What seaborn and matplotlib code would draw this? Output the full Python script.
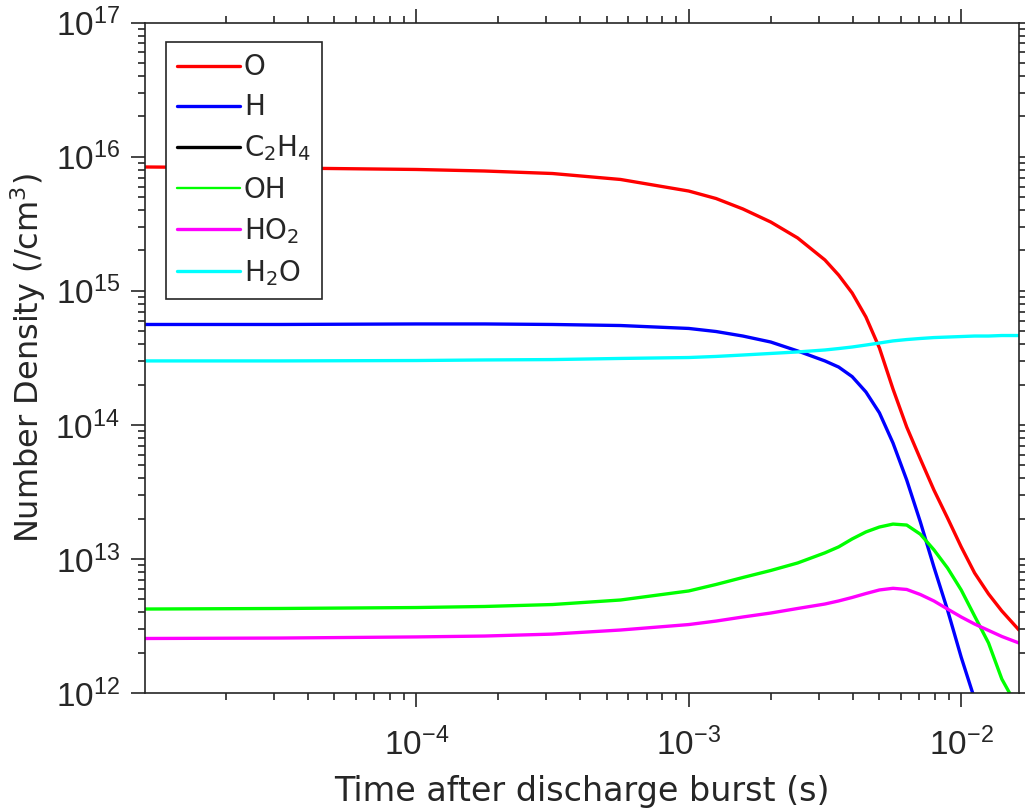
import numpy as np
import matplotlib
matplotlib.use("Agg")
import matplotlib.pyplot as plt
import matplotlib.ticker as mticker
import seaborn as sns

# Time after the discharge burst (s)
time_s = [1.0e-5, 3.16e-5, 1.0e-4, 1.78e-4, 3.16e-4, 5.62e-4, 1.0e-3, 1.26e-3,
          1.58e-3, 2.0e-3, 2.51e-3, 3.16e-3, 3.55e-3, 3.98e-3, 4.47e-3, 5.01e-3,
          5.62e-3, 6.31e-3, 7.08e-3, 7.94e-3, 8.91e-3, 1.0e-2, 1.12e-2, 1.26e-2,
          1.41e-2, 1.63e-2]

# Number densities (/cm^3)
n_O = [8.39e15, 8.25e15, 8.04e15, 7.83e15, 7.50e15, 6.77e15, 5.55e15, 4.88e15,
       4.08e15, 3.26e15, 2.48e15, 1.70e15, 1.31e15, 9.63e14, 6.38e14, 3.75e14,
       1.85e14, 9.64e13, 5.57e13, 3.27e13, 2.02e13, 1.23e13, 7.86e12, 5.48e12,
       4.09e12, 2.95e12]
n_H = [5.61e14, 5.61e14, 5.66e14, 5.66e14, 5.61e14, 5.51e14, 5.24e14, 4.97e14,
       4.60e14, 4.15e14, 3.56e14, 3.00e14, 2.70e14, 2.29e14, 1.76e14, 1.23e14,
       7.32e13, 3.88e13, 1.89e13, 8.71e12, 4.16e12, 1.85e12, 9.01e11, 4.86e11,
       np.nan, np.nan]
n_OH = [4.23e12, 4.27e12, 4.34e12, 4.42e12, 4.57e12, 4.94e12, 5.77e12, 6.45e12,
        7.27e12, 8.20e12, 9.33e12, 1.11e13, 1.23e13, 1.41e13, 1.59e13, 1.73e13,
        1.82e13, 1.79e13, 1.53e13, 1.17e13, 8.56e12, 5.87e12, 3.75e12, 2.36e12,
        1.27e12, 7.47e11]
n_HO2 = [2.55e12, 2.57e12, 2.62e12, 2.66e12, 2.75e12, 2.95e12, 3.24e12, 3.44e12,
         3.69e12, 3.95e12, 4.27e12, 4.61e12, 4.86e12, 5.16e12, 5.52e12, 5.87e12,
         6.04e12, 5.92e12, 5.43e12, 4.86e12, 4.23e12, 3.69e12, 3.27e12, 2.93e12,
         2.64e12, 2.36e12]
n_H2O = [3.00e14, 3.00e14, 3.02e14, 3.05e14, 3.07e14, 3.13e14, 3.18e14, 3.24e14,
         3.32e14, 3.41e14, 3.50e14, 3.62e14, 3.71e14, 3.81e14, 3.94e14, 4.08e14,
         4.23e14, 4.33e14, 4.41e14, 4.48e14, 4.52e14, 4.56e14, 4.60e14, 4.60e14,
         4.64e14, 4.64e14]

species = ["O", "H", r"C$_2$H$_4$", "OH", r"HO$_2$", r"H$_2$O"]

sns.set_theme(style="ticks")
plt.rcParams.update({
    "font.family": ["DejaVu Sans"],
    "mathtext.default": "regular",
    "axes.edgecolor": "#262626",
    "axes.linewidth": 1.2,
    "text.color": "#262626",
    "axes.labelcolor": "#262626",
    "xtick.color": "#262626",
    "ytick.color": "#262626",
})

fig = plt.figure(figsize=(10.25, 8.08), dpi=100)
ax = fig.add_axes([145 / 1025, (808 - 693) / 808, 874 / 1025, 670.3 / 808])

lw = 2.4
sns.lineplot(x=time_s, y=n_O, ax=ax, color="#ff0000", linewidth=lw,
             label=species[0], sort=False, estimator=None)
sns.lineplot(x=time_s, y=n_H, ax=ax, color="#0000ff", linewidth=lw,
             label=species[1], sort=False, estimator=None)
# C2H4 stays below the plotted range; it only appears in the legend
ax.plot([], [], color="black", linewidth=lw, label=species[2])
sns.lineplot(x=time_s, y=n_OH, ax=ax, color="#00ff00", linewidth=lw,
             label=species[3], sort=False, estimator=None)
sns.lineplot(x=time_s, y=n_HO2, ax=ax, color="#ff00ff", linewidth=lw,
             label=species[4], sort=False, estimator=None)
sns.lineplot(x=time_s, y=n_H2O, ax=ax, color="#00ffff", linewidth=lw,
             label=species[5], sort=False, estimator=None)

ax.set_xscale("log")
ax.set_yscale("log")
ax.set_xlim(1.01e-5, 1.63e-2)
ax.set_ylim(1e12, 1e17)

ax.xaxis.set_minor_formatter(mticker.NullFormatter())
ax.yaxis.set_minor_formatter(mticker.NullFormatter())
ax.yaxis.set_minor_locator(mticker.LogLocator(base=10, subs=np.arange(2, 10), numticks=20))
ax.xaxis.set_minor_locator(mticker.LogLocator(base=10, subs=np.arange(2, 10), numticks=20))

ax.tick_params(which="both", direction="out", top=True, right=True, width=1.2)
ax.tick_params(which="major", length=10)
ax.tick_params(which="minor", length=5)
ax.tick_params(axis="x", which="major", pad=15)
ax.tick_params(axis="y", which="major", pad=8)
for lab in ax.get_xticklabels() + ax.get_yticklabels():
    lab.set_fontfamily("Liberation Sans")
    lab.set_fontsize(24)

ax.set_xlabel("Time after discharge burst (s)", fontsize=24)
ax.set_ylabel("Number Density (/cm$^3$)", fontsize=23)
ax.xaxis.set_label_coords(0.5, -0.122)
ax.yaxis.set_label_coords(-0.111, 0.5)

leg = ax.legend(loc="upper left", bbox_to_anchor=(0.024, 0.971), fontsize=20,
                frameon=True, fancybox=False, framealpha=1, edgecolor="#262626",
                handlelength=2.25, handletextpad=0.15, labelspacing=0.44,
                borderpad=0.4, borderaxespad=0)
leg.get_frame().set_linewidth(1.2)
leg.get_lines()[3].set_linewidth(1.7)

fig.savefig("out.png", dpi=100)
